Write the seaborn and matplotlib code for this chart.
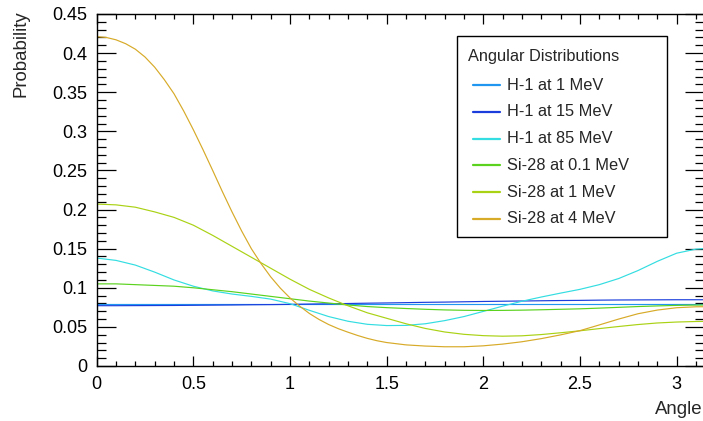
import numpy as np
import pandas as pd
import matplotlib
matplotlib.use("Agg")
import matplotlib.pyplot as plt
import seaborn as sns
from matplotlib.patches import Rectangle
from matplotlib.lines import Line2D
from matplotlib.ticker import MultipleLocator, FuncFormatter

# ---------------- data ----------------
angle = [0.0, 0.1, 0.2, 0.3, 0.4, 0.5, 0.6, 0.7, 0.8, 0.9, 1.0, 1.1, 1.2, 1.3, 1.4, 1.5,
         1.6, 1.7, 1.8, 1.9, 2.0, 2.1, 2.2, 2.3, 2.4, 2.5, 2.6, 2.7, 2.8, 2.9, 3.0, 3.1, 3.14159]

# the steep Si-28 4 MeV curve was read at finer steps on its steep part
angle_fine = [0.0, 0.05, 0.1, 0.15, 0.2, 0.25, 0.3, 0.35, 0.4, 0.45, 0.5, 0.55, 0.6, 0.65,
              0.7, 0.75, 0.8, 0.85, 0.9, 0.95, 1.0, 1.05, 1.1, 1.15, 1.2, 1.25, 1.3, 1.35,
              1.4, 1.45, 1.5, 1.6, 1.7, 1.8, 1.9, 2.0, 2.1, 2.2, 2.3, 2.4, 2.5, 2.6, 2.7,
              2.8, 2.9, 3.0, 3.1, 3.14159]

h1_1mev = [0.0796] * 33

h1_15mev = [0.0771, 0.0771, 0.0772, 0.0773, 0.0774, 0.0776, 0.0778, 0.0780, 0.0783, 0.0785,
            0.0788, 0.0792, 0.0795, 0.0799, 0.0803, 0.0806, 0.0810, 0.0814, 0.0817, 0.0821,
            0.0825, 0.0828, 0.0831, 0.0834, 0.0837, 0.0839, 0.0842, 0.0844, 0.0845, 0.0846,
            0.0847, 0.0847, 0.0847]

h1_85mev = [0.138, 0.135, 0.129, 0.120, 0.110, 0.102, 0.0960, 0.0920, 0.0890, 0.0855,
            0.0797, 0.0712, 0.0632, 0.0572, 0.0533, 0.0517, 0.0519, 0.0540, 0.0580, 0.0632,
            0.0698, 0.0765, 0.0828, 0.0882, 0.0932, 0.0980, 0.1040, 0.1118, 0.1220, 0.1338,
            0.1442, 0.1494, 0.1500]

si28_01mev = [0.105, 0.105, 0.104, 0.103, 0.102, 0.100, 0.0975, 0.095, 0.092, 0.089,
              0.086, 0.083, 0.0805, 0.078, 0.076, 0.0746, 0.0735, 0.0725, 0.0717, 0.0712,
              0.0710, 0.0711, 0.0714, 0.0719, 0.0725, 0.0731, 0.0740, 0.0750, 0.0760, 0.0768,
              0.0775, 0.0779, 0.0780]

si28_1mev = [0.207, 0.206, 0.203, 0.197, 0.190, 0.180, 0.167, 0.153, 0.139, 0.125,
             0.111, 0.098, 0.087, 0.077, 0.068, 0.061, 0.054, 0.048, 0.0435, 0.0405,
             0.0388, 0.0381, 0.0386, 0.0402, 0.0425, 0.0450, 0.0478, 0.0505, 0.0530, 0.0550,
             0.0562, 0.0569, 0.0570]

si28_4mev = [0.4210, 0.4200, 0.4170, 0.4120, 0.4050, 0.3950, 0.3820, 0.3660, 0.3480, 0.3260,
             0.3020, 0.2765, 0.2500, 0.2230, 0.1970, 0.1725, 0.1500, 0.1310, 0.1140, 0.0995,
             0.0870, 0.0765, 0.0672, 0.0595, 0.0530, 0.0477, 0.0432, 0.0390, 0.0353, 0.0323,
             0.0300, 0.0270, 0.0255, 0.0246, 0.0246, 0.0258, 0.0280, 0.0310, 0.0350, 0.0398,
             0.0452, 0.0525, 0.0600, 0.0668, 0.0715, 0.0745, 0.0757, 0.0758]

labels = ["H-1 at 1 MeV", "H-1 at 15 MeV", "H-1 at 85 MeV",
          "Si-28 at 0.1 MeV", "Si-28 at 1 MeV", "Si-28 at 4 MeV"]
series = [h1_1mev, h1_15mev, h1_85mev, si28_01mev, si28_1mev, si28_4mev]
series_x = [angle, angle, angle, angle, angle, angle_fine]
colors = ["#2196f0", "#1a3ddc", "#33dde1", "#5ad21e", "#aad214", "#d7aa28"]

legend_title = "Angular Distributions"
x_title = "Angle"
y_title = "Probability"

df = pd.concat([pd.DataFrame({"Angle": xs, "Probability": s, "Series": lab})
                for xs, s, lab in zip(series_x, series, labels)], ignore_index=True)

# ---------------- figure ----------------
sns.set_style("ticks")
plt.rcParams["font.family"] = ["Liberation Sans", "DejaVu Sans"]

W, H = 703, 421
fig = plt.figure(figsize=(W / 100, H / 100), dpi=100)
x0, x1, y0, y1 = 96.7, 704.0, 14.0, 366.0
ax = fig.add_axes([x0 / W, 1 - y1 / H, (x1 - x0) / W, (y1 - y0) / H])

sns.lineplot(data=df, x="Angle", y="Probability", hue="Series", hue_order=labels,
             palette=dict(zip(labels, colors)), linewidth=0.85, legend=False, ax=ax,
             estimator=None, sort=False)

ax.set_xlim(0, np.pi)
ax.set_ylim(0, 0.45)
ax.set_xlabel("")
ax.set_ylabel("")

ax.xaxis.set_major_locator(MultipleLocator(0.5))
ax.xaxis.set_minor_locator(MultipleLocator(0.1))
ax.yaxis.set_major_locator(MultipleLocator(0.05))
ax.yaxis.set_minor_locator(MultipleLocator(0.01))


def fmt(v, pos=None):
    return f"{v:.2f}".rstrip("0").rstrip(".")


ax.xaxis.set_major_formatter(FuncFormatter(fmt))
ax.yaxis.set_major_formatter(FuncFormatter(fmt))

for sp in ax.spines.values():
    sp.set_visible(True)
    sp.set_color("black")
    sp.set_linewidth(1.0)

ax.tick_params(axis="x", which="both", direction="in", top=True, bottom=True,
               colors="black", labelsize=13, pad=7)
ax.tick_params(axis="x", which="major", length=7.2, width=0.9)
ax.tick_params(axis="x", which="minor", length=3.6, width=0.9)
ax.tick_params(axis="y", which="both", direction="in", left=True, right=True,
               colors="black", labelsize=13, pad=6.5)
ax.tick_params(axis="y", which="major", length=13.7, width=0.9)
ax.tick_params(axis="y", which="minor", length=6.8, width=0.9)

# axis titles (ROOT style: at the axis ends)
fig.text(21 / W, 1 - 10 / H, y_title, rotation=90, ha="center", va="top", fontsize=13.4)
fig.text(703 / W, 1 - 409 / H, x_title, ha="right", va="center", fontsize=13.4)

# legend box (ROOT TLegend style)
bx, by, bw, bh = 457, 36, 210, 201
fig.patches.append(Rectangle((bx / W, 1 - (by + bh) / H), bw / W, bh / H,
                             transform=fig.transFigure, facecolor="white",
                             edgecolor="black", linewidth=1.0, zorder=5))
fig.text(468 / W, 1 - 57 / H, legend_title, ha="left", va="center", fontsize=11.8, zorder=6)
for i, (lab, col) in enumerate(zip(labels, colors)):
    yy = 1 - (85 + 26.8 * i) / H
    fig.add_artist(Line2D([473 / W, 500 / W], [yy, yy], transform=fig.transFigure,
                          color=col, linewidth=1.6, zorder=6))
    fig.text(507 / W, yy, lab, ha="left", va="center", fontsize=11.8, zorder=6)

fig.savefig("out.png", dpi=100)
